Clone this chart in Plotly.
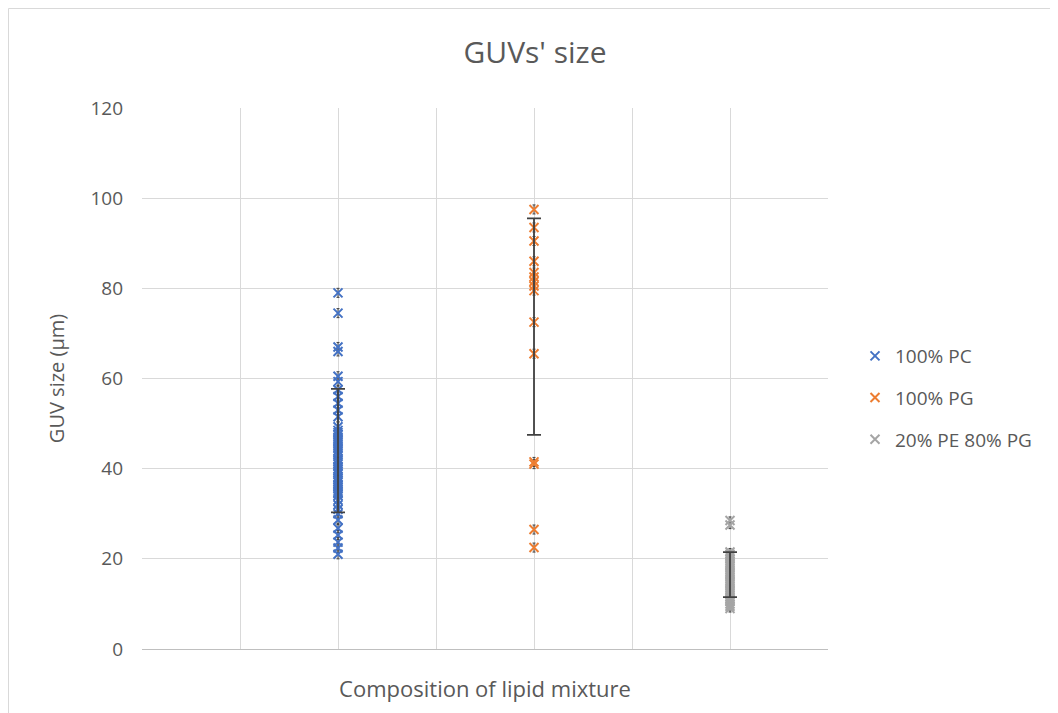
import plotly.graph_objects as go

series_names = ["100% PC", "100% PG", "20% PE 80% PG"]
series_x = [2, 4, 6]

pc_sizes = [79, 74.5, 67, 66, 60.5, 59.3, 57.5, 56, 54.5, 53, 51.5, 49.3, 48.5, 48, 47.5,
            47, 46.5, 46, 45.5, 45, 44.5, 44, 43.5, 43, 42, 41.5, 41, 40.5, 40, 39.5,
            39, 38, 37.5, 37, 36.5, 36, 35.5, 35, 34.5, 34, 33, 32, 31, 30, 28.6, 26.8,
            25.3, 23.7, 22.4, 21]
pg_sizes = [97.5, 93.5, 90.5, 86, 83.5, 82.5, 81.5, 80.5, 79.5, 72.5, 65.5, 41.5, 41,
            26.5, 22.5]
pe_sizes = [28.5, 27.5, 21.5, 21, 20.5, 20, 19.5, 19, 18.5, 18, 17.5, 17, 16.5, 16,
            15.5, 15, 14.5, 14, 13.5, 13, 12.5, 12, 11.5, 11, 10.5, 10, 9.5, 9]

series_means = [44.0, 71.5, 16.5]
series_sds = [13.7, 24.0, 5.0]
point_err = [1.0, 1.0, 0.8]

colors = ["#4472C4", "#ED7D31", "#A5A5A5"]
text_color = "#595959"
err_color = "#404040"

all_sizes = [pc_sizes, pg_sizes, pe_sizes]

fig = go.Figure()
for i, (name, xv, ys) in enumerate(zip(series_names, series_x, all_sizes)):
    fig.add_trace(go.Scatter(
        x=[xv] * len(ys), y=ys, mode="markers", name=name,
        legendgroup=name,
        marker=dict(symbol="x-thin", size=9, line=dict(width=2, color=colors[i]),
                    color=colors[i]),
        error_y=dict(type="constant", value=point_err[i], color=err_color,
                     thickness=1, width=1.5),
    ))
for i, xv in enumerate(series_x):
    fig.add_trace(go.Scatter(
        x=[xv], y=[series_means[i]], mode="markers", showlegend=False,
        marker=dict(size=1, opacity=0),
        error_y=dict(type="data", array=[series_sds[i]], color=err_color,
                     thickness=1.8, width=7),
        hoverinfo="skip",
    ))

W, H = 1058, 713
L, T = 134, 100
PW, PH = 686, 541
R = W - L - PW
B = H - T - PH

fig.add_shape(type="rect", xref="paper", yref="paper",
              x0=(0.5 - L) / PW, x1=(W + 30 - L) / PW,
              y0=-(B + 30) / PH, y1=(T + PH - 0.5) / PH,
              line=dict(color="#D9D9D9", width=1), layer="below")

fig.update_layout(
    width=W, height=H,
    margin=dict(l=L, r=R, t=T, b=B),
    paper_bgcolor="white", plot_bgcolor="white",
    font=dict(family="Open Sans", color=text_color, size=19),
    title=dict(text="GUVs' size", x=527 / W, xanchor="center", y=1 - 44 / H,
               yanchor="middle", font=dict(size=30, color=text_color)),
    legend=dict(x=(847 - L) / PW, xanchor="left", y=(H - B - 390) / PH,
                yanchor="middle",
                font=dict(size=19, color=text_color), tracegroupgap=14,
                itemwidth=30),
    xaxis=dict(range=[0, 7], dtick=1, tick0=0, showticklabels=False,
               showgrid=True, gridcolor="#D9D9D9", gridwidth=1, zeroline=False,
               showline=True, linecolor="#BFBFBF", linewidth=1, ticks="",
               title=dict(text="Composition of lipid mixture", standoff=32,
                          font=dict(size=22, color=text_color))),
    yaxis=dict(range=[0, 120], dtick=20, showgrid=True, gridcolor="#D9D9D9",
               gridwidth=1, zeroline=False, showline=False, ticks="",
               ticklabelstandoff=18,
               tickfont=dict(size=19, color=text_color),
               title=dict(text="GUV size (µm)", standoff=20,
                          font=dict(size=20, color=text_color))),
)

fig.write_html("out.html")
